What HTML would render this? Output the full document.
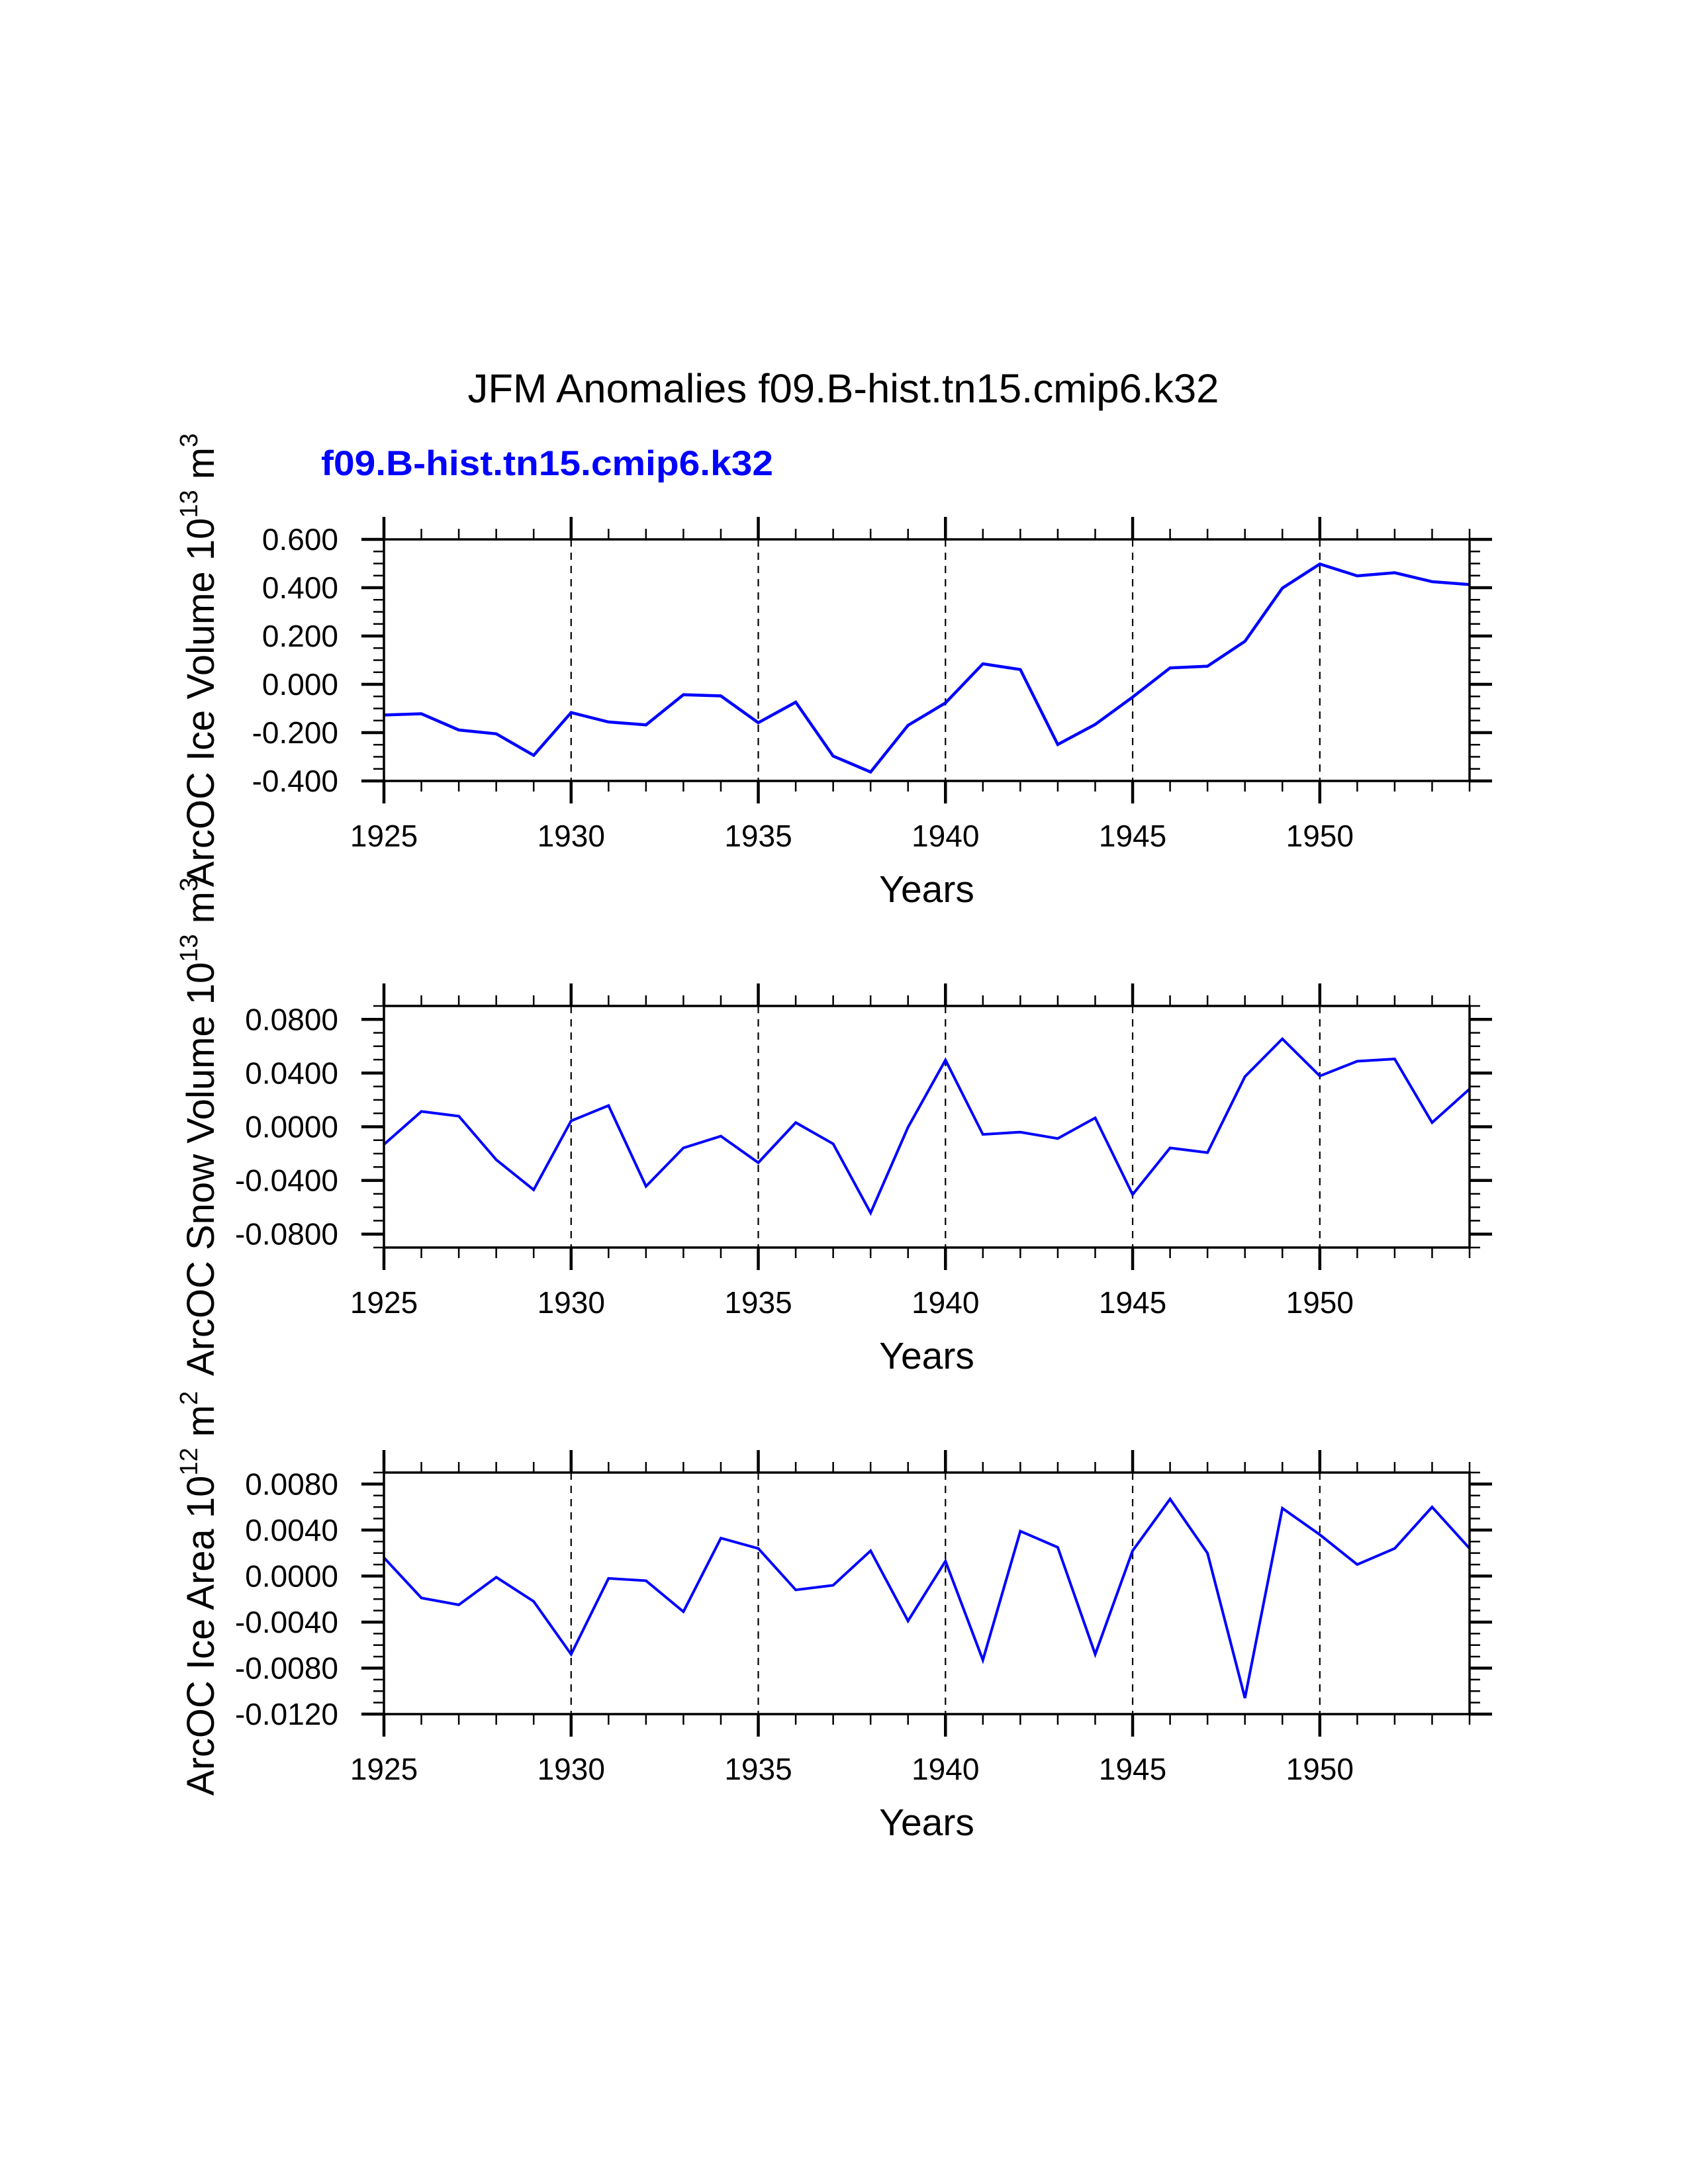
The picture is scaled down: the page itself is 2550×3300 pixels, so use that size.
<!DOCTYPE html>
<html><head><meta charset="utf-8"><style>
html,body{margin:0;padding:0;background:#fff}
svg{display:block;font-family:"Liberation Sans",sans-serif}
</style></head><body>
<svg id="chart" xmlns="http://www.w3.org/2000/svg" width="2550" height="3300" viewBox="0 0 2550 3300">
<rect x="0" y="0" width="2550" height="3300" fill="#fff"/>
<text x="1274" y="608" font-size="61" text-anchor="middle" textLength="1135" lengthAdjust="spacingAndGlyphs">JFM Anomalies f09.B-hist.tn15.cmip6.k32</text>
<text x="485" y="718" font-size="53" font-weight="bold" fill="#0000ff" textLength="683" lengthAdjust="spacingAndGlyphs">f09.B-hist.tn15.cmip6.k32</text>
<g id="plots"></g>
</svg>
<script>
const years = [1925,1926,1927,1928,1929,1930,1931,1932,1933,1934,1935,1936,1937,1938,1939,1940,1941,1942,1943,1944,1945,1946,1947,1948,1949,1950,1951,1952,1953,1954];
const iceVolume = [-0.127,-0.122,-0.189,-0.205,-0.294,-0.117,-0.156,-0.168,-0.043,-0.048,-0.159,-0.074,-0.297,-0.363,-0.170,-0.077,0.085,0.061,-0.249,-0.166,-0.053,0.068,0.075,0.178,0.398,0.498,0.449,0.462,0.425,0.413];
const snowVolume = [-0.0132,0.0114,0.0079,-0.0246,-0.047,0.0044,0.0158,-0.0444,-0.0158,-0.007,-0.0268,0.0031,-0.0127,-0.0642,-0.0004,0.0497,-0.0057,-0.004,-0.0088,0.0066,-0.0505,-0.0158,-0.0193,0.0374,0.0655,0.0378,0.0488,0.0505,0.0031,0.0281];
const iceArea = [0.0016,-0.0019,-0.0025,-0.0001,-0.0022,-0.0068,-0.0002,-0.0004,-0.0031,0.0033,0.0024,-0.0012,-0.0008,0.0022,-0.0039,0.0013,-0.0073,0.0039,0.0025,-0.0068,0.0022,0.0067,0.002,-0.0106,0.0059,0.0036,0.001,0.0024,0.006,0.0024];
const xTickLabels = ["1925","1930","1935","1940","1945","1950"];
const iceVolTicks = ["0.600","0.400","0.200","0.000","-0.200","-0.400"];
const snowTicks = ["0.0800","0.0400","0.0000","-0.0400","-0.0800"];
const areaTicks = ["0.0080","0.0040","0.0000","-0.0040","-0.0080","-0.0120"];

const NS="http://www.w3.org/2000/svg";
const X0=580, X1=2220, H=365;
const g=document.getElementById('plots');
function mk(tag,attrs,parent){const e=document.createElementNS(NS,tag);for(const k in attrs)e.setAttribute(k,attrs[k]);(parent||g).appendChild(e);return e;}
function xs(y){return X0+(y-1925)*(X1-X0)/(1954-1925);}

const panels=[
 {top:815,min:-0.4,max:0.6,minor:0.05,ticks:iceVolTicks,data:iceVolume,name:'ice-volume',title:['ArcOC Ice Volume 10','13',' m','3'],lw:4.5},
 {top:1520,min:-0.09,max:0.09,minor:0.01,ticks:snowTicks,data:snowVolume,name:'snow-volume',title:['ArcOC Snow Volume 10','13',' m','3'],lw:4},
 {top:2225,min:-0.012,max:0.009,minor:0.001,ticks:areaTicks,data:iceArea,name:'ice-area',title:['ArcOC Ice Area 10','12',' m','2'],lw:4}
];

panels.forEach(p=>{
  const pg=mk('g',{});
  
  
  const B=p.top+H;
  const ys=v=>B-(v-p.min)/(p.max-p.min)*H;
  for(let y=1930;y<=1950;y+=5){
    const l=mk('line',{x1:xs(y),x2:xs(y),y1:p.top,y2:B,stroke:'#000','stroke-width':2.2,'stroke-dasharray':'11 9'},pg);
    
    
  }
  const pts=years.map((y,i)=>xs(y).toFixed(1)+','+ys(p.data[i]).toFixed(1)).join(' ');
  const pl=mk('polyline',{points:pts,fill:'none',stroke:'#0000ff','stroke-width':p.lw,'stroke-linejoin':'miter'},pg);
  
  
  const fr=mk('rect',{x:X0,y:p.top,width:X1-X0,height:H,fill:'none',stroke:'#000','stroke-width':3.5},pg);
  
  
  for(let y=1925;y<=1954;y++){
    const major=(y%5===0);const len=major?34:16;const w=major?4.5:2.5;
    mk('line',{x1:xs(y),x2:xs(y),y1:B,y2:B+len,stroke:'#000','stroke-width':w},pg);
    mk('line',{x1:xs(y),x2:xs(y),y1:p.top,y2:p.top-len,stroke:'#000','stroke-width':w},pg);
  }
  xTickLabels.forEach(t=>{
    const tx=mk('text',{x:xs(+t),y:B+99,'font-size':46,'text-anchor':'middle'},pg);
    
    
    tx.textContent=t;
  });
  const n=Math.round((p.max-p.min)/p.minor);
  for(let i=0;i<=n;i++){
    const v=p.min+i*p.minor;
    const isMajor=p.ticks.some(t=>Math.abs(parseFloat(t)-v)<p.minor*0.1);
    const len=isMajor?34:16, w=isMajor?4.5:2.5;
    mk('line',{x1:X0,x2:X0-len,y1:ys(v),y2:ys(v),stroke:'#000','stroke-width':w},pg);
    mk('line',{x1:X1,x2:X1+len,y1:ys(v),y2:ys(v),stroke:'#000','stroke-width':w},pg);
  }
  p.ticks.forEach(t=>{
    const tx=mk('text',{x:511,y:ys(parseFloat(t))+16,'font-size':46,'text-anchor':'end'},pg);
    
    
    tx.textContent=t;
  });
  const xt=mk('text',{x:1400,y:B+183,'font-size':57,'text-anchor':'middle'},pg);
  
  
  xt.textContent='Years';
  const cy=p.top+H/2;
  const yt=mk('text',{x:0,y:0,'font-size':58,'text-anchor':'middle',transform:'translate(323,'+cy+') rotate(-90)'},pg);
  
  
  const parts=p.title;
  const a=mk('tspan',{},yt);a.textContent=parts[0];
  const b=mk('tspan',{'font-size':38,dy:-25},yt);b.textContent=parts[1];
  const c=mk('tspan',{dy:25},yt);c.textContent=parts[2];
  const d=mk('tspan',{'font-size':38,dy:-25},yt);d.textContent=parts[3];
});
</script>
</body></html>
